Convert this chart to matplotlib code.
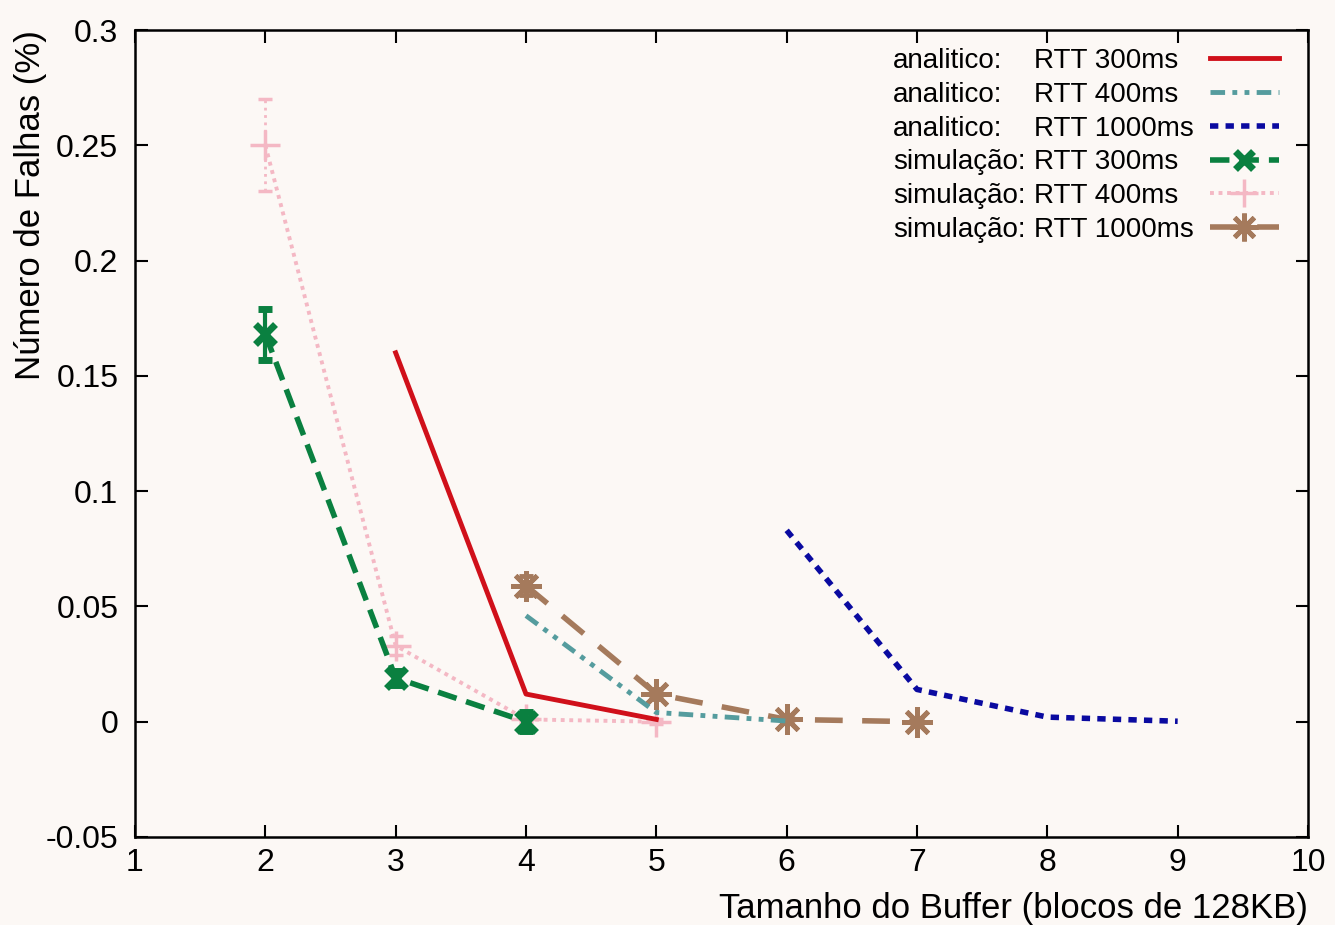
import matplotlib
matplotlib.use("Agg")
import matplotlib.pyplot as plt
from matplotlib.lines import Line2D

plt.rcParams['font.family'] = ['Liberation Sans', 'DejaVu Sans']

# ---- data ----
x_an300 = [3, 4, 5]
y_an300 = [0.160, 0.012, 0.001]

x_an400 = [4, 5, 6]
y_an400 = [0.046, 0.004, 0.0003]

x_an1000 = [6, 7, 8, 9]
y_an1000 = [0.083, 0.014, 0.002, 0.0002]

x_sim300 = [2, 3, 4]
y_sim300 = [0.168, 0.019, 0.0]
e_sim300 = [0.011, 0.003, 0.004]

x_sim400 = [2, 3, 4, 5]
y_sim400 = [0.250, 0.033, 0.001, 0.0]
e_sim400 = [0.020, 0.004, 0.001, 0.001]

x_sim1000 = [4, 5, 6, 7]
y_sim1000 = [0.059, 0.012, 0.001, 0.0]
e_sim1000 = [0.004, 0.002, 0.001, 0.001]

legend_left = ["analitico:", "analitico:", "analitico:",
               "simulação:", "simulação:", "simulação:"]
legend_right = ["RTT 300ms", "RTT 400ms", "RTT 1000ms",
                "RTT 300ms", "RTT 400ms", "RTT 1000ms"]

xticks = list(range(1, 11))
yticks = [-0.05, 0, 0.05, 0.1, 0.15, 0.2, 0.25, 0.3]
ytick_labels = ["-0.05", "0", "0.05", "0.1", "0.15", "0.2", "0.25", "0.3"]

# ---- colours ----
bg = "#fcf8f5"
c_red = "#d0101a"
c_teal = "#559c9e"
c_blue = "#0a0aa0"
c_green = "#0a8040"
c_pink = "#f4b8c4"
c_brown = "#a57a5c"

W, H = 1335, 925
fig = plt.figure(figsize=(W / 100, H / 100), dpi=100, facecolor=bg)
ax = fig.add_axes([135 / W, 1 - 837 / H, (1308 - 135) / W, (837 - 30) / H])
ax.set_facecolor(bg)

fs = 23
afs = 25
lfs = 20

ls_green = (0, (3.5, 1.8))
ls_pink = (0, (1, 1.2))
ls_brown = (0, (5, 3.5))
ls_teal = (0, (3, 1.5, 1, 1.5, 1, 1.5))
ls_blue = (0, (1.5, 1.3))

# simulations (error lines)
eb = ax.errorbar(x_sim400, y_sim400, yerr=e_sim400, color=c_pink, ls=ls_pink, lw=2.8,
                 marker='+', ms=22, mew=2.5, capsize=5, elinewidth=2, zorder=2)
eb[2][0].set_linestyle(':')
ax.errorbar(x_sim300, y_sim300, yerr=e_sim300, color=c_green, ls=ls_green, lw=4,
            marker='x', ms=15, mew=5, capsize=5, elinewidth=3, zorder=3)
ax.errorbar(x_sim1000, y_sim1000, yerr=e_sim1000, color=c_brown, ls=ls_brown, lw=4,
            marker=(8, 2, 0), ms=22, mew=3.5, capsize=5, elinewidth=3, zorder=3)

# analytic
ax.plot(x_an300, y_an300, color=c_red, lw=3.5, ls='-', zorder=4)
ax.plot(x_an400, y_an400, color=c_teal, lw=3.5, ls=ls_teal, zorder=4)
ax.plot(x_an1000, y_an1000, color=c_blue, lw=4, ls=ls_blue, zorder=4)

ax.set_xlim(1, 10)
ax.set_ylim(-0.05, 0.3)
ax.set_xticks(xticks)
ax.set_xticklabels([str(v) for v in xticks], fontsize=fs)
ax.set_yticks(yticks)
ax.set_yticklabels(ytick_labels, fontsize=fs)
ax.tick_params(direction='in', length=9, width=1.5, top=True, right=True)
ax.tick_params(axis='y', pad=12)
ax.tick_params(axis='x', pad=8)
for s in ax.spines.values():
    s.set_linewidth(1.8)

ax.set_xlabel("Tamanho do Buffer (blocos de 128KB)", fontsize=afs, loc='right', labelpad=10)
ax.set_ylabel("Número de Falhas (%)", fontsize=afs, loc='top', labelpad=-1)

handles = [
    Line2D([], [], color=c_red, lw=3.5, ls='-'),
    Line2D([], [], color=c_teal, lw=3.5, ls=ls_teal),
    Line2D([], [], color=c_blue, lw=4, ls=ls_blue),
    Line2D([], [], color=c_green, lw=4, ls=ls_green, marker='x', ms=13, mew=5),
    Line2D([], [], color=c_pink, lw=2.8, ls=ls_pink, marker='+', ms=20, mew=2.5),
    Line2D([], [], color=c_brown, lw=4, ls=ls_brown, marker=(8, 2, 0), ms=20, mew=3.5),
]
full_labels = [a + " " + b for a, b in zip(legend_left, legend_right)]
leg = ax.legend(handles, full_labels, loc='upper right', frameon=False, markerfirst=False,
                fontsize=lfs, handlelength=2.5, labelspacing=0.28,
                bbox_to_anchor=((1308 - 11 - 135) / (1308 - 135), 1.0),
                borderaxespad=0.35, borderpad=0.3, handletextpad=0.5)
for t in leg.get_texts():
    t.set_alpha(0)

fig.canvas.draw()
r = fig.canvas.get_renderer()
for t, a, b in zip(leg.get_texts(), legend_left, legend_right):
    bb = t.get_window_extent(r)
    yc = (bb.y0 + bb.y1) / 2 / H
    fig.text(893 / W, yc, a, fontsize=lfs, ha='left', va='center')
    fig.text(1034 / W, yc, b, fontsize=lfs, ha='left', va='center')

fig.savefig("out.png", dpi=100, facecolor=bg)
